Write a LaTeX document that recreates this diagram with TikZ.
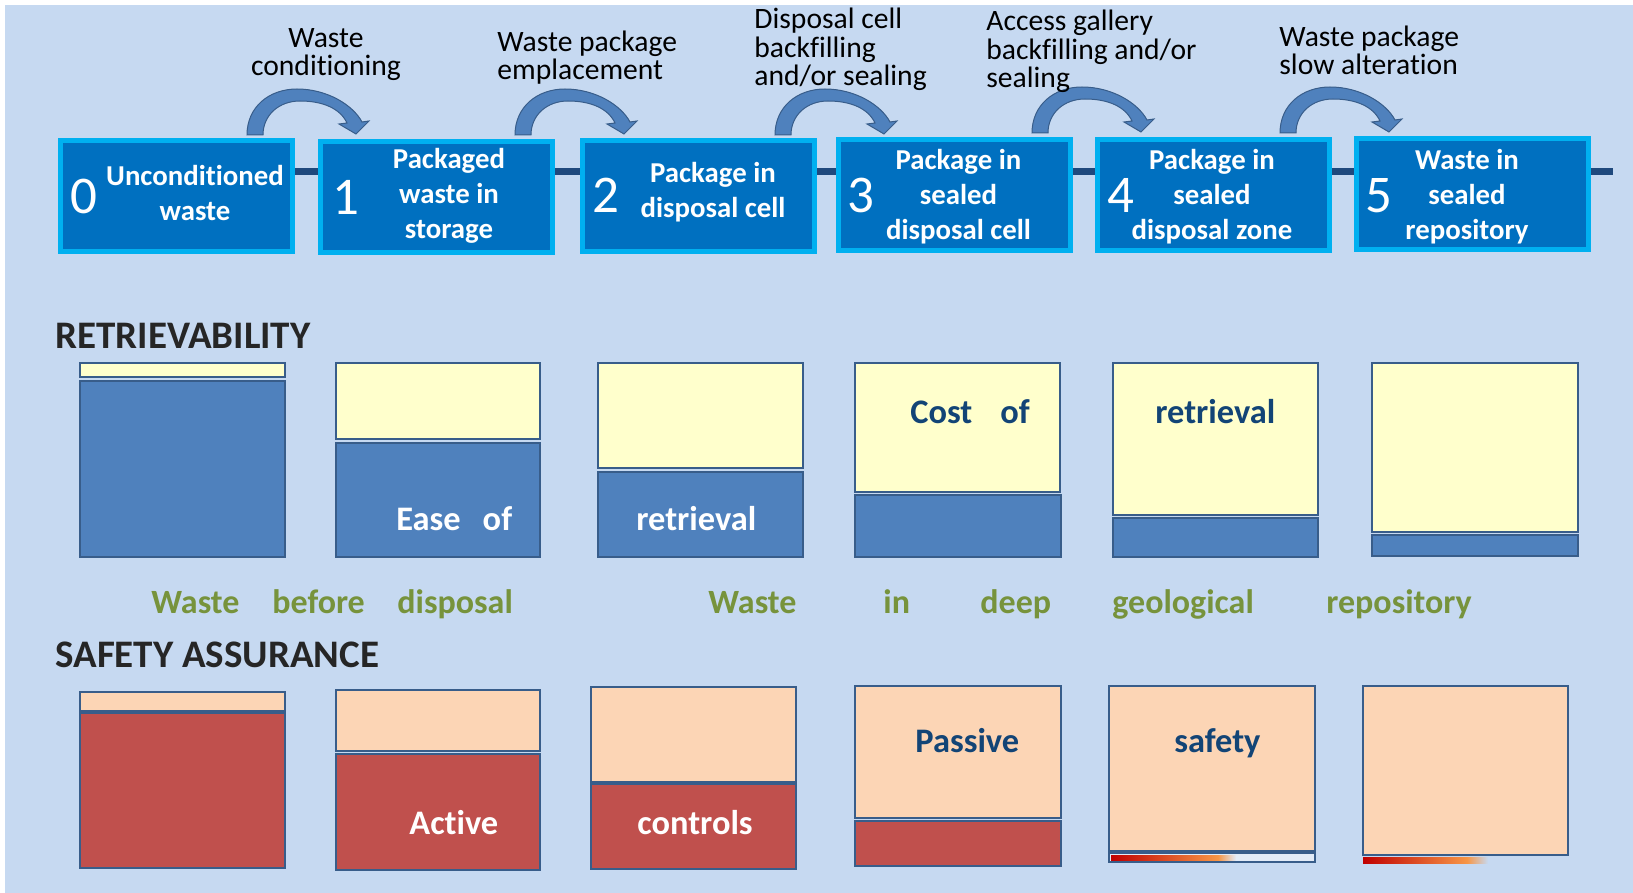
\documentclass[tikz,border=0pt]{standalone}
\usepackage{fontspec}
\setmainfont{Carlito}[Ligatures=NoCommon]
\usetikzlibrary{positioning}
\definecolor{bgblue}{RGB}{198,217,241}
\definecolor{stagefill}{RGB}{0,112,192}
\definecolor{stageedge}{RGB}{0,176,240}
\definecolor{timeline}{RGB}{31,73,125}
\definecolor{arrowfill}{RGB}{79,129,189}
\definecolor{arrowedge}{RGB}{56,93,138}
\definecolor{baryellow}{RGB}{255,255,204}
\definecolor{barpeach}{RGB}{252,213,181}
\definecolor{barred}{RGB}{192,80,77}
\definecolor{labelblue}{RGB}{18,68,118}
\definecolor{phasegreen}{RGB}{119,147,60}
\definecolor{headgrey}{RGB}{38,38,38}
\definecolor{gradred}{RGB}{192,0,0}
\definecolor{gradorange}{RGB}{247,150,70}
\definecolor{barpale}{RGB}{226,235,247}

\begin{document}
\begin{tikzpicture}[x=0.5pt,y=-0.5pt]
    % Styles
    \tikzset{stage/.style    ={draw=stageedge,fill=stagefill,line width=2.5pt,minimum width=116pt,minimum height=55.5pt,inner sep=0pt}}
    \tikzset{stagenum/.style ={anchor=base west,inner sep=0pt,text=white,font=\fontsize{26.5}{30}\selectfont}}
    \tikzset{stagetext/.style={align=center,inner sep=0pt,text=white,font=\bfseries\fontsize{14.4}{17.5}\selectfont}}
    \tikzset{steplabel/.style={inner sep=0pt,font=\fontsize{14.8}{14.4}\selectfont}}
    \tikzset{timeline/.style ={draw=timeline,line width=3.5pt}}
    \tikzset{arrowbody/.style={fill=arrowfill,draw=arrowedge,line width=0.5pt}}
    \tikzset{hoparrow/.pic   ={\draw[arrowbody] (0,0) .. controls (0,-28) and (22,-46) .. (50,-46)
        .. controls (80,-46) and (106,-30) .. (115,-13) -- (122,-14) -- (109,-1) -- (92,-11) -- (100,-12)
        .. controls (93,-27) and (75,-34) .. (53,-34) .. controls (32,-34) and (16,-20) .. (16,0) -- cycle;}}
    \tikzset{heading/.style  ={anchor=base west,inner sep=0pt,text=headgrey,font=\bfseries\fontsize{19.5}{21}\selectfont}}
    \tikzset{phase/.style    ={anchor=base west,inner sep=0pt,text=phasegreen,font=\bfseries\fontsize{17}{19}\selectfont}}
    \tikzset{barlabel/.style ={anchor=base west,inner sep=0pt,font=\bfseries\fontsize{17.2}{19}\selectfont}}
    \tikzset{bar/.style      ={draw=arrowedge,line width=1.25pt}}

    % Background
    \useasboundingbox (0,0) rectangle (1633,893);
    \fill[white] (0,0) rectangle (1633,893);
    \fill[bgblue] (5,5) rectangle (1633,893);

    % Timeline behind the stages
    \coordinate (lineA) at (176,172);
    \coordinate (lineB) at (1613,172);
    \draw[timeline] (lineA) -- (lineB);

    % Stage boxes
    \node[stage] (s0) at (176,196)   {};
    \node[stage] (s1) at (436.5,197.5) {};
    \node[stage] (s2) at (698,196)   {};
    \node[stage] (s3) at (954,195)   {};
    \node[stage] (s4) at (1213,195)  {};
    \node[stage] (s5) at (1472,194.5) {};

    \node[stagenum] (n0) at (70,214)   {0};
    \node[stagenum] (n1) at (332,215)  {1};
    \node[stagenum] (n2) at (592,213)  {2};
    \node[stagenum] (n3) at (847,213)  {3};
    \node[stagenum] (n4) at (1107,213) {4};
    \node[stagenum] (n5) at (1365,213) {5};

    \node[stagetext] (t0) at (195,193)   {Unconditioned\\waste};
    \node[stagetext] (t1) at (449,196)   {Packaged\\waste in\\storage};
    \node[stagetext] (t2) at (713,192.5) {Package in\\disposal cell};
    \node[stagetext] (t3) at (958.5,197) {Package in\\sealed\\disposal cell};
    \node[stagetext] (t4) at (1212,197)  {Package in\\sealed\\disposal zone};
    \node[stagetext] (t5) at (1467,197)  {Waste in\\sealed\\repository};

    % Transition arrows and their labels
    \pic at (247,135)  {hoparrow};
    \pic at (515,135)  {hoparrow};
    \pic at (775,135)  {hoparrow};
    \pic at (1032,133) {hoparrow};
    \pic at (1280,133) {hoparrow};

    \node[steplabel,anchor=base,align=center]    (l1) at (326,76)  {Waste\\conditioning};
    \node[steplabel,anchor=base west,align=left] (l2) at (497,80)  {Waste package\\emplacement};
    \node[steplabel,anchor=base west,align=left] (l3) at (754,86)  {Disposal cell\\backfilling\\and/or sealing};
    \node[steplabel,anchor=base west,align=left] (l4) at (986,88)  {Access gallery\\backfilling and/or\\sealing};
    \node[steplabel,anchor=base west,align=left] (l5) at (1279,75) {Waste package\\slow alteration};

    % Retrievability
    \node[heading] (hr) at (55,349) {RETRIEVABILITY};
    \draw[bar,fill=baryellow] (80,363) rectangle (285,377);   \draw[bar,fill=arrowfill] (80,381) rectangle (285,557);
    \draw[bar,fill=baryellow] (336,363) rectangle (540,439);  \draw[bar,fill=arrowfill] (336,443) rectangle (540,557);
    \draw[bar,fill=baryellow] (598,363) rectangle (803,468);  \draw[bar,fill=arrowfill] (598,472) rectangle (803,557);
    \draw[bar,fill=baryellow] (855,363) rectangle (1060,492); \draw[bar,fill=arrowfill] (855,495) rectangle (1061,557);
    \draw[bar,fill=baryellow] (1113,363) rectangle (1318,515);\draw[bar,fill=arrowfill] (1113,518) rectangle (1318,557);
    \draw[bar,fill=baryellow] (1372,363) rectangle (1578,532);\draw[bar,fill=arrowfill] (1372,535) rectangle (1578,556);

    \node[barlabel,text=white]     (r1) at (396,530)  {Ease\hspace{11pt}of};
    \node[barlabel,text=white]     (r2) at (636,530)  {retrieval};
    \node[barlabel,text=labelblue] (r3) at (910,423)  {Cost\hspace{14pt}of};
    \node[barlabel,text=labelblue] (r4) at (1155,423) {retrieval};

    % Phases
    \node[phase] (g1) at (151,613)  {Waste};
    \node[phase] (g2) at (272,613)  {before};
    \node[phase] (g3) at (397,613)  {disposal};
    \node[phase] (g4) at (708,613)  {Waste};
    \node[phase] (g5) at (883,613)  {in};
    \node[phase] (g6) at (980,613)  {deep};
    \node[phase] (g7) at (1112,613) {geological};
    \node[phase] (g8) at (1326,613) {repository};

    % Safety assurance
    \node[heading] (hs) at (55,667) {SAFETY ASSURANCE};
    \draw[bar,fill=barpeach] (80,692) rectangle (285,711);    \draw[bar,fill=barred] (80,713) rectangle (285,868);
    \draw[bar,fill=barpeach] (336,690) rectangle (540,751);   \draw[bar,fill=barred] (336,754) rectangle (540,870);
    \draw[bar,fill=barpeach] (591,687) rectangle (796,782);   \draw[bar,fill=barred] (591,784) rectangle (796,869);
    \draw[bar,fill=barpeach] (855,686) rectangle (1061,818);  \draw[bar,fill=barred] (855,821) rectangle (1061,866);
    \draw[bar,fill=barpeach] (1109,686) rectangle (1315,851); \draw[bar,fill=barpale] (1109,853) rectangle (1315,862);
    \shade[left color=gradred,right color=gradorange] (1111,855) rectangle (1218,860);
    \shade[left color=gradorange,right color=barpale] (1218,855) rectangle (1236,860);
    \draw[bar,fill=barpeach] (1363,686) rectangle (1568,855);
    \shade[left color=gradred,right color=gradorange] (1363,857) rectangle (1467,863);
    \shade[left color=gradorange,right color=bgblue]  (1467,857) rectangle (1488,863);

    \node[barlabel,text=white]     (a1) at (409,834)  {Active};
    \node[barlabel,text=white]     (a2) at (637,834)  {controls};
    \node[barlabel,text=labelblue] (a3) at (915,752)  {Passive};
    \node[barlabel,text=labelblue] (a4) at (1174,752) {safety};
  \end{tikzpicture}
\end{document}
